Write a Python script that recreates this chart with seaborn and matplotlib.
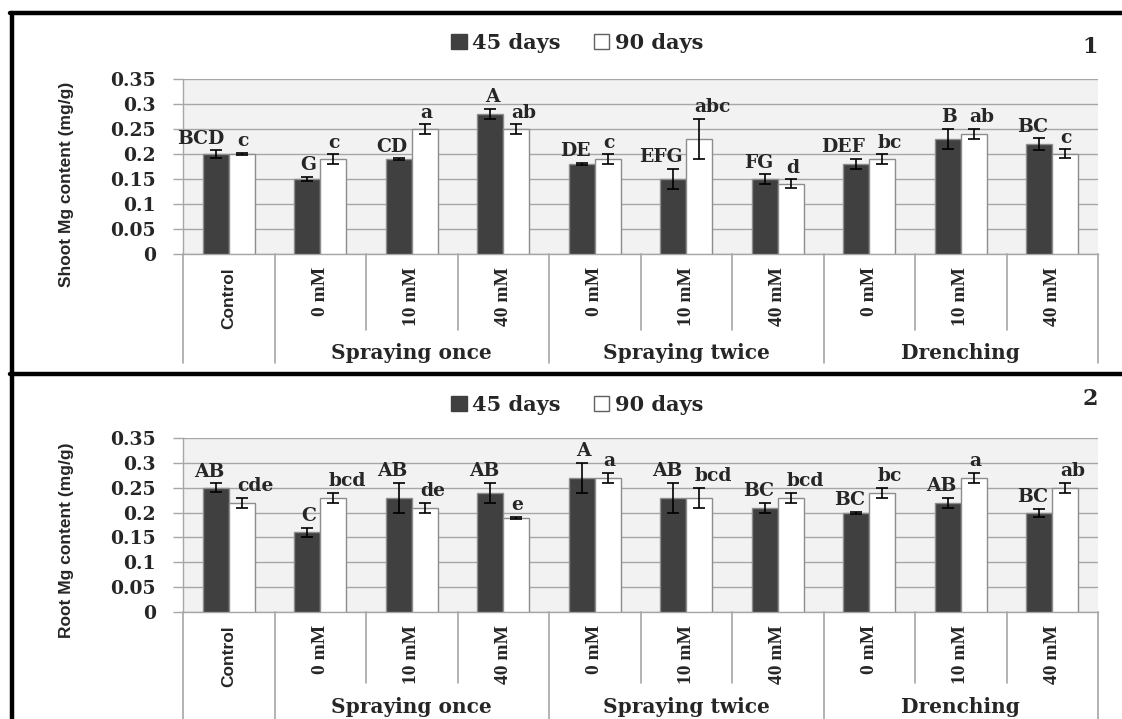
import matplotlib
matplotlib.use("Agg")
import matplotlib.pyplot as plt
from matplotlib.patches import Patch
from matplotlib.lines import Line2D
import seaborn as sns
import pandas as pd

# ---------------- data ----------------
treatments = ["Control", "Once 0", "Once 10", "Once 40", "Twice 0", "Twice 10",
              "Twice 40", "Drench 0", "Drench 10", "Drench 40"]
dose_labels = ["Control", "0 mM", "10 mM", "40 mM", "0 mM", "10 mM", "40 mM",
               "0 mM", "10 mM", "40 mM"]
groups = ["Spraying once", "Spraying twice", "Drenching"]
series = ["45 days", "90 days"]

shoot_45 = [0.20, 0.15, 0.19, 0.28, 0.18, 0.15, 0.15, 0.18, 0.23, 0.22]
shoot_45_err = [0.008, 0.004, 0.002, 0.010, 0.002, 0.020, 0.010, 0.010, 0.021, 0.011]
shoot_90 = [0.20, 0.19, 0.25, 0.25, 0.19, 0.23, 0.14, 0.19, 0.24, 0.20]
shoot_90_err = [0.002, 0.010, 0.010, 0.010, 0.010, 0.040, 0.009, 0.010, 0.010, 0.009]
shoot_45_letters = ["BCD", "G", "CD", "A", "DE", "EFG", "FG", "DEF", "B", "BC"]
shoot_90_letters = ["c", "c", "a", "ab", "c", "abc", "d", "bc", "ab", "c"]

root_45 = [0.25, 0.16, 0.23, 0.24, 0.27, 0.23, 0.21, 0.20, 0.22, 0.20]
root_45_err = [0.009, 0.009, 0.030, 0.020, 0.030, 0.030, 0.010, 0.002, 0.010, 0.008]
root_90 = [0.22, 0.23, 0.21, 0.19, 0.27, 0.23, 0.23, 0.24, 0.27, 0.25]
root_90_err = [0.010, 0.010, 0.010, 0.002, 0.010, 0.020, 0.010, 0.010, 0.010, 0.010]
root_45_letters = ["AB", "C", "AB", "AB", "A", "AB", "BC", "BC", "AB", "BC"]
root_90_letters = ["cde", "bcd", "de", "e", "a", "bcd", "bcd", "bc", "a", "ab"]

yticks = [0, 0.05, 0.1, 0.15, 0.2, 0.25, 0.3, 0.35]
ytick_labels = ["0", "0.05", "0.1", "0.15", "0.2", "0.25", "0.3", "0.35"]

# ---------------- style ----------------
sns.set_theme(style="white")
plt.rcParams["font.family"] = ["DejaVu Serif"]

SERIF = "DejaVu Serif"
NARROW_SERIF = "Liberation Serif"
SANS = "Liberation Sans"

DARK = "#404040"
EDGE = "#8C8C8C"
GRID = "#A6A6A6"
FACE = "#F2F2F2"

W, H = 1122, 719
fig = plt.figure(figsize=(W / 100, H / 100), dpi=100)


def fx(px):
    return px / W


def fy(py):
    return 1 - py / H


def panel(top_px, bottom_px, v45, e45, v90, e90, l45, l90, ylabel, ylab_y,
          legend_y, number, number_y, inner_drop, group_drop, group_y):
    ax = fig.add_axes([fx(183), fy(bottom_px), fx(1098) - fx(183),
                       (bottom_px - top_px) / H])
    df = pd.DataFrame({
        "treatment": treatments * 2,
        "series": [series[0]] * len(treatments) + [series[1]] * len(treatments),
        "value": v45 + v90,
    })
    sns.barplot(data=df, x="treatment", y="value", hue="series", order=treatments,
                hue_order=series, palette=[DARK, "white"], width=0.57, gap=0,
                edgecolor=EDGE, linewidth=1.0, errorbar=None, legend=False, ax=ax,
                zorder=3)
    ax.set_facecolor(FACE)
    ax.set_ylim(0, 0.35)
    ax.set_xlim(-0.5, len(treatments) - 0.5)
    ax.set_yticks(yticks)
    ax.set_yticklabels(ytick_labels, fontsize=13.5, fontweight="bold",
                       family=SERIF)
    ax.yaxis.grid(True, color=GRID, lw=1.0, zorder=0)
    ax.set_axisbelow(True)
    ax.tick_params(axis="y", length=7.5, color=GRID, width=1.0, pad=12, left=True)
    ax.tick_params(axis="x", bottom=False, labelbottom=False)
    ax.set_xlabel("")
    ax.set_ylabel("")
    for s in ["top", "right"]:
        ax.spines[s].set_visible(False)
    for s in ["left", "bottom"]:
        ax.spines[s].set_color(GRID)
        ax.spines[s].set_linewidth(1.0)

    errs = [e45, e90]
    letters = [l45, l90]
    # dark-bar letters sit a little to the left, light-bar letters to the right
    shifts = [0.10, -0.05]
    aligns = ["right", "left"]
    bar_containers = list(ax.containers)
    for k, cont in enumerate(bar_containers):
        bars = [b for b in cont if b is not None]
        xs = [b.get_x() + b.get_width() / 2 for b in bars]
        ys = [b.get_height() for b in bars]
        ax.errorbar(xs, ys, yerr=errs[k], fmt="none", ecolor="black",
                    elinewidth=1.2, capsize=4.5, capthick=1.2, zorder=4)
        for x, y, e, t in zip(xs, ys, errs[k], letters[k]):
            ax.text(x + shifts[k], y + e + 0.005, t, ha=aligns[k], va="bottom",
                    fontsize=13.5, fontweight="bold", family=SERIF, zorder=5)

    # category axis (multi-level)
    trans = ax.get_xaxis_transform()
    n = len(treatments)
    group_bounds = {0, 1, 4, 7, 10}
    for i in range(n + 1):
        xb = i - 0.5
        drop = group_drop if i in group_bounds else inner_drop
        ax.plot([xb, xb], [0, drop], transform=trans, color=GRID, lw=1.2,
                clip_on=False, zorder=1)
    for i, lab in enumerate(dose_labels):
        if i == 0:
            kw = dict(fontsize=12.5, family=SANS, fontweight="bold")
        else:
            kw = dict(fontsize=14, family=NARROW_SERIF, fontweight="bold")
        ax.annotate(lab, xy=(i, 0), xycoords=trans, xytext=(0, -9.5),
                    textcoords="offset points", rotation=90, ha="center",
                    va="top", **kw)
    for g, lab in enumerate(groups):
        ax.text(2 + 3 * g, group_y, lab, transform=trans, ha="center",
                va="center", fontsize=14.5, fontweight="bold", family=SERIF)

    fig.text(fx(67), fy(ylab_y), ylabel, rotation=90, ha="center", va="center",
             fontsize=12.5, family=SANS, fontweight="bold")
    handles = [Patch(facecolor=DARK, edgecolor=DARK),
               Patch(facecolor="white", edgecolor="#606060")]
    fig.legend(handles, series, loc="center", bbox_to_anchor=(fx(577), fy(legend_y)),
               ncol=2, frameon=False, handlelength=0.75, handleheight=0.75,
               handletextpad=0.25, columnspacing=1.6,
               prop={"family": SERIF, "weight": "bold", "size": 15})
    fig.text(fx(1090), fy(number_y), number, ha="center", va="center",
             fontsize=16, fontweight="bold", family=SERIF)
    return ax


panel(79, 254, shoot_45, shoot_45_err, shoot_90, shoot_90_err,
      shoot_45_letters, shoot_90_letters, "Shoot Mg content (mg/g)", 184,
      43, "1", 47, -0.434, -0.623, -0.566)
panel(438, 612, root_45, root_45_err, root_90, root_90_err,
      root_45_letters, root_90_letters, "Root Mg content (mg/g)", 540,
      405, "2", 399, -0.408, -0.62, -0.546)

# black frames
lw_frame = 3.2
fig.add_artist(Line2D([fx(10), 1.0], [fy(13), fy(13)], color="black", lw=lw_frame))
fig.add_artist(Line2D([fx(11.5), fx(11.5)], [fy(13), 0.0], color="black", lw=lw_frame))
fig.add_artist(Line2D([fx(10), 1.0], [fy(374), fy(374)], color="black", lw=lw_frame))

fig.savefig("out.png", dpi=100)
